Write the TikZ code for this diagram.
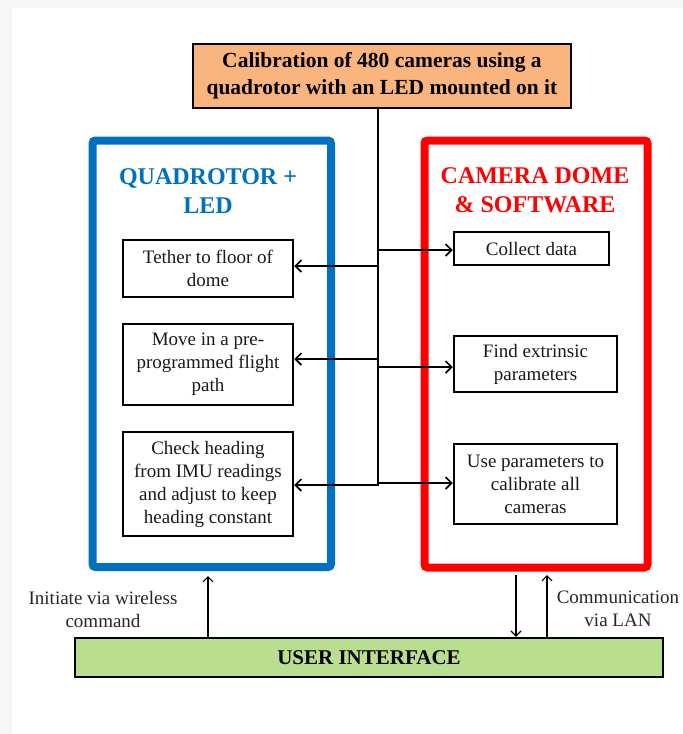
\documentclass[tikz,border=0pt]{standalone}
\usepackage{fontspec}
\setmainfont{Liberation Serif}
\usetikzlibrary{arrows.meta}
\definecolor{qblue}{HTML}{0070C0}
\definecolor{cred}{HTML}{FF0000}
\definecolor{orangefill}{HTML}{FAB47D}
\definecolor{greenfill}{HTML}{B9DE8F}
\begin{document}
\begin{tikzpicture}[x=1pt,y=-1pt,
  stepbox/.style={draw=black, line width=2.5pt, inner sep=0pt, align=center,
    font=\fontsize{19}{23}\selectfont, text=black!90},
  frame/.style={line width=8pt, rounded corners=3pt, inner sep=0pt},
  ftitle/.style={align=center, font=\fontsize{24}{29}\selectfont\bfseries},
  arr/.style={line width=1.6pt, -{Straight Barb[length=6pt,width=12pt,line width=1.6pt]}},
  uarr/.style={line width=1.2pt, -{Straight Barb[length=5pt,width=10pt,line width=1.2pt]}},
  lbl/.style={align=center, font=\fontsize{19}{23}\selectfont, text=black!85}]
\useasboundingbox (0,0) rectangle (683,734);
\fill[gray!7] (0,0) rectangle (683,734);
\fill[white] (12,8) rectangle (683,734);

% top box
\node[draw=black, line width=2.5pt, fill=orangefill, minimum width=378pt, minimum height=64pt,
  align=center, inner sep=0pt, font=\fontsize{21.5}{27}\selectfont\bfseries] (top) at (382,76)
  {Calibration of 480 cameras using a\\quadrotor with an LED mounted on it};

% frames
\node[frame, draw=qblue, minimum width=238.5pt, minimum height=426.5pt] (quad) at (211.75,353.75) {};
\node[frame, draw=cred, minimum width=223pt, minimum height=427pt] (dome) at (536,354) {};
\node[ftitle, text=qblue] (qtitle) at (208,191) {QUADROTOR +\\LED};
\node[ftitle, text=cred] (dtitle) at (535,190) {CAMERA DOME\\\& SOFTWARE};

% left boxes
\node[stepbox, minimum width=170pt, minimum height=57pt] (l1) at (208,268.5) {Tether to floor of\\dome};
\node[stepbox, minimum width=170pt, minimum height=81pt] (l2) at (208,364.5) {Move in a pre-\\programmed flight\\path};
\node[stepbox, minimum width=170pt, minimum height=104pt] (l3) at (208,484) {Check heading\\from IMU readings\\and adjust to keep\\heading constant};

% right boxes
\node[stepbox, minimum width=155pt, minimum height=33pt] (r1) at (531.5,248.5) {Collect data};
\node[stepbox, minimum width=163pt, minimum height=56pt] (r2) at (535.5,364) {Find extrinsic\\parameters};
\node[stepbox, minimum width=163pt, minimum height=80pt] (r3) at (535.5,484) {Use parameters to\\calibrate all\\cameras};

% trunk
\coordinate (tbot) at (378,486);
\coordinate (tl1) at (378,266);
\coordinate (tl2) at (378,359);
\coordinate (tl3) at (378,485);
\coordinate (tr1) at (378,250);
\coordinate (tr2) at (378,367);
\coordinate (tr3) at (378,483);
\draw[line width=1.8pt] (top.south -| tbot) -- (tbot);
\draw[arr] (tl1) -- (tl1 -| l1.east);
\draw[arr] (tl2) -- (tl2 -| l2.east);
\draw[arr] (tl3) -- (tl3 -| l3.east);
\draw[arr] (tr1) -- (tr1 -| r1.west);
\draw[arr] (tr2) -- (tr2 -| r2.west);
\draw[arr] (tr3) -- (tr3 -| r3.west);

% user interface
\node[draw=black, line width=2.5pt, fill=greenfill, minimum width=588pt, minimum height=39pt,
  inner sep=0pt, font=\fontsize{21}{25}\selectfont\bfseries] (ui) at (369,657.5) {USER INTERFACE};

\coordinate (a1) at (208,576);
\coordinate (a2) at (516,575);
\coordinate (a3) at (547,575);
\draw[uarr] (ui.north -| a1) -- (a1);
\draw[uarr] (a2) -- (ui.north -| a2);
\draw[uarr] (ui.north -| a3) -- (a3);

\node[lbl] (lw) at (103,609) {Initiate via wireless\\command};
\node[lbl] (ll) at (618,609) {Communication\\via LAN};
\end{tikzpicture}
\end{document}
